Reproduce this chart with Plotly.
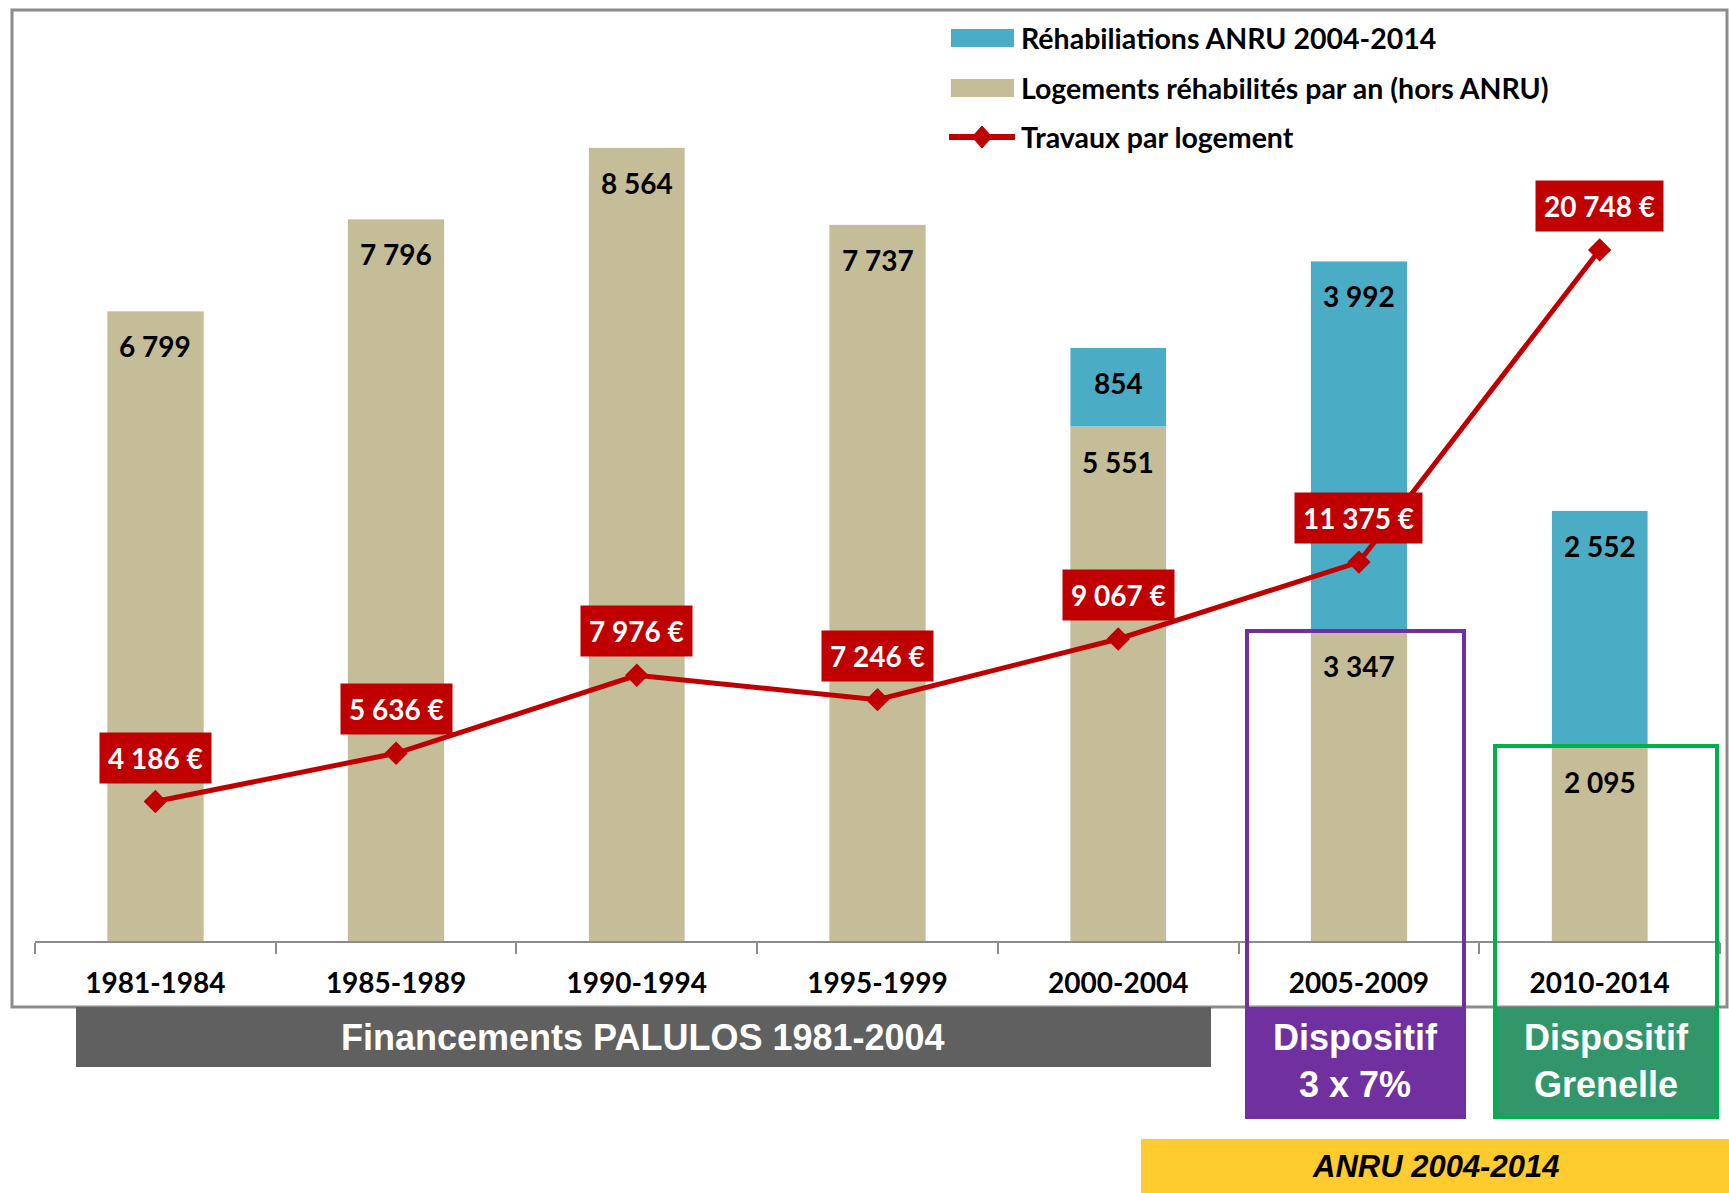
import plotly.graph_objects as go

# ---------------- data ----------------
periods = ["1981-1984", "1985-1989", "1990-1994", "1995-1999", "2000-2004", "2005-2009", "2010-2014"]
hors_anru = [6799, 7796, 8564, 7737, 5551, 3347, 2095]
anru = [None, None, None, None, 854, 3992, 2552]
travaux = [4186, 5636, 7976, 7246, 9067, 11375, 20748]

name_anru = "Réhabiliations ANRU 2004-2014"
name_hors = "Logements réhabilités par an (hors ANRU)"
name_trav = "Travaux par logement"

TAN = "#C4BD97"
BLUE = "#4BACC6"
RED = "#C00000"
GRAY = "#8C8C8C"

FONT = "Lato, 'Open Sans', sans-serif"
ARIAL = "'Liberation Sans', Arial, sans-serif"


def fmt(v):
    return f"{v:,}".replace(",", " ")


# ---------------- geometry helpers (layout only) ----------------
WIDTH, HEIGHT = 1729, 1193
L, R, T, B = 35, 9, 15, 252
PW = WIDTH - L - R
PH = HEIGHT - T - B


def fx(px):
    return (px - L) / PW


def fy(py):
    return (T + PH - py) / PH


fig = go.Figure()

fig.add_trace(go.Bar(x=periods, y=hors_anru, name=name_hors, marker_color=TAN,
                     width=0.4, showlegend=False))
fig.add_trace(go.Bar(x=periods, y=anru, name=name_anru, marker_color=BLUE,
                     width=0.4, showlegend=False))
fig.add_trace(go.Scatter(x=periods, y=travaux, name=name_trav, yaxis="y2",
                         mode="lines+markers",
                         line=dict(color=RED, width=5),
                         marker=dict(symbol="diamond", size=18, color=RED),
                         showlegend=False))

annotations = []
# bar value labels
for i, p in enumerate(periods):
    h = hors_anru[i]
    annotations.append(dict(x=p, y=h, xref="x", yref="y", text=fmt(h), showarrow=False,
                            yshift=-35, font=dict(family=FONT, size=28, color="black", weight="bold")))
    a = anru[i]
    if a:
        annotations.append(dict(x=p, y=h + a, xref="x", yref="y", text=fmt(a), showarrow=False,
                                yshift=-35, font=dict(family=FONT, size=28, color="black", weight="bold")))
# line value labels
for i, p in enumerate(periods):
    annotations.append(dict(x=p, y=travaux[i], xref="x", yref="y2", text=fmt(travaux[i]) + " €",
                            showarrow=False, yshift=44, bgcolor=RED, borderpad=8,
                            font=dict(family=FONT, size=28, color="white", weight="bold")))

shapes = []
# outer frame
shapes.append(dict(type="rect", xref="paper", yref="paper", x0=fx(12), x1=fx(1727), y0=fy(1007), y1=fy(10),
                   line=dict(color=GRAY, width=3), layer="below"))
# gray PALULOS box
shapes.append(dict(type="rect", xref="paper", yref="paper", x0=fx(76), x1=fx(1211), y0=fy(1067), y1=fy(1007),
                   fillcolor="#606060", line=dict(width=0)))
# purple
shapes.append(dict(type="rect", xref="paper", yref="paper", x0=fx(1246), x1=fx(1465), y0=fy(1118), y1=fy(1007),
                   fillcolor="#7030A0", line=dict(width=0)))
shapes.append(dict(type="rect", xref="paper", yref="paper", x0=fx(1247), x1=fx(1464), y0=fy(1117), y1=fy(631),
                   line=dict(color="#7030A0", width=4)))
# green
shapes.append(dict(type="rect", xref="paper", yref="paper", x0=fx(1494), x1=fx(1718), y0=fy(1118), y1=fy(1007),
                   fillcolor="#33966A", line=dict(width=0)))
shapes.append(dict(type="rect", xref="paper", yref="paper", x0=fx(1495), x1=fx(1717), y0=fy(1117), y1=fy(746),
                   line=dict(color="#00B050", width=4)))
# yellow ANRU band
shapes.append(dict(type="rect", xref="paper", yref="paper", x0=fx(1141), x1=fx(1729), y0=fy(1193), y1=fy(1139),
                   fillcolor="#FFCC2F", line=dict(width=0)))

annotations += [
    dict(xref="paper", yref="paper", x=fx(643), y=fy(1037), xanchor="center", yanchor="middle",
         text="Financements PALULOS 1981-2004",
         showarrow=False, font=dict(family=ARIAL, size=36, color="white", weight="bold")),
    dict(xref="paper", yref="paper", x=fx(1355), y=fy(1061), xanchor="center", yanchor="middle",
         text="Dispositif<br>3 x 7%",
         showarrow=False, font=dict(family=ARIAL, size=36, color="white", weight="bold")),
    dict(xref="paper", yref="paper", x=fx(1606), y=fy(1061), xanchor="center", yanchor="middle",
         text="Dispositif<br>Grenelle",
         showarrow=False, font=dict(family=ARIAL, size=36, color="white", weight="bold")),
    dict(xref="paper", yref="paper", x=fx(1435), y=fy(1166), xanchor="center", yanchor="middle",
         text="ANRU 2004-2014",
         showarrow=False, font=dict(family=ARIAL, size=31, color="black", weight="bold", style="italic")),
]

# manual legend
leg_rows = [(38, name_anru, BLUE, "bar"), (88, name_hors, TAN, "bar"), (137, name_trav, RED, "line")]
for yc, txt, col, kind in leg_rows:
    if kind == "bar":
        shapes.append(dict(type="rect", xref="paper", yref="paper", x0=fx(951), x1=fx(1014),
                           y0=fy(yc + 9), y1=fy(yc - 9), fillcolor=col, line=dict(width=0)))
    else:
        shapes.append(dict(type="line", xref="paper", yref="paper", x0=fx(949), x1=fx(1015),
                           y0=fy(yc), y1=fy(yc), line=dict(color=col, width=6)))
        cx, dx, dy = 982, 10, 11
        path = (f"M {fx(cx - dx)} {fy(yc)} L {fx(cx)} {fy(yc - dy)} L {fx(cx + dx)} {fy(yc)} "
                f"L {fx(cx)} {fy(yc + dy)} Z")
        shapes.append(dict(type="path", xref="paper", yref="paper", path=path, fillcolor=col,
                           line=dict(color=col, width=1)))
    annotations.append(dict(xref="paper", yref="paper", x=fx(1019), y=fy(yc), xanchor="left",
                            yanchor="middle", text=txt, showarrow=False,
                            font=dict(family=FONT, size=28.5, color="black", weight="bold")))

fig.update_layout(
    width=WIDTH, height=HEIGHT,
    margin=dict(l=L, r=R, t=T, b=B),
    paper_bgcolor="white", plot_bgcolor="white",
    barmode="stack",
    showlegend=False,
    xaxis=dict(type="category", range=[-0.5, 6.5], showline=True, linecolor=GRAY, linewidth=2,
               ticks="outside", tickson="boundaries", ticklen=11, tickcolor=GRAY, tickwidth=2,
               ticklabelstandoff=16, showgrid=False, zeroline=False,
               tickfont=dict(family=FONT, size=28, color="black", weight="bold")),
    yaxis=dict(range=[0, 10000], visible=False, showgrid=False),
    yaxis2=dict(range=[0, 27800], overlaying="y", visible=False, showgrid=False),
    shapes=shapes,
    annotations=annotations,
)

fig.write_html("out.html", config={"displayModeBar": False},
               post_script="document.body.style.margin='0';document.body.style.overflow='hidden';")
